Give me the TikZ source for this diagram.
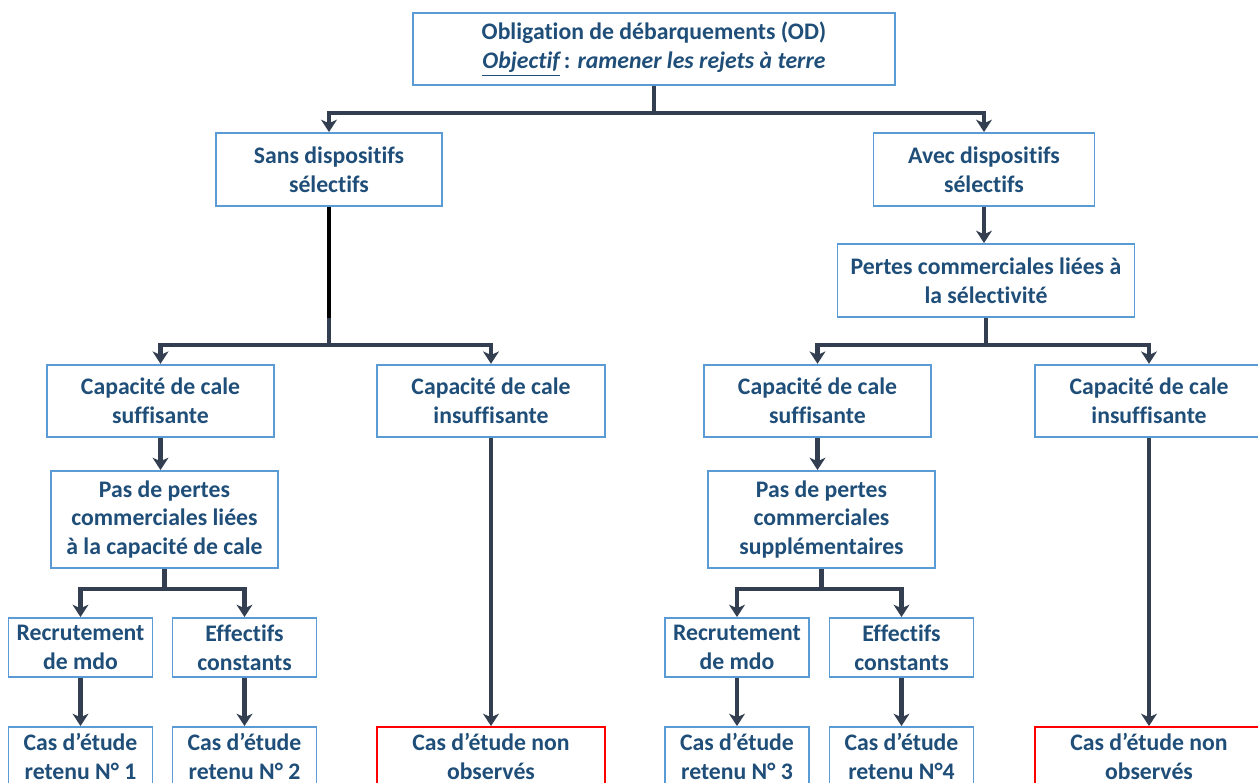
\documentclass[tikz,border=0pt]{standalone}
\usepackage{fontspec}
\setmainfont{Carlito}[Ligatures=NoCommon]
\usetikzlibrary{arrows.meta}

\definecolor{boxblue}{HTML}{5B9BD5}
\definecolor{textblue}{HTML}{1F4E79}
\definecolor{linegray}{HTML}{333F50}

\tikzset{
    box/.style={draw=boxblue, line width=1.1pt, fill=white, align=center, inner sep=1pt,
        text=textblue, font=\fontsize{13.5}{16.4}\selectfont\bfseries},
    widebox/.style={box, minimum width=4.55cm, minimum height=1.45cm},
    smallbox/.style={box, minimum width=2.88cm, minimum height=1.18cm},
    redbox/.style={box, draw=red, minimum width=4.56cm, minimum height=1.18cm},
    link/.style={draw=linegray, line width=2.8pt},
    arrow/.style={link, -{Stealth[length=7pt, width=9pt, inset=2pt]}}
}

\begin{document}
\begin{tikzpicture}[x=0.2mm, y=-0.2mm]

    % Frame
    \clip (0, 0) rectangle (1258, 783);

    % Top
    \node [box, minimum width=9.64cm, minimum height=1.44cm] (od) at (654, 49)
        {Obligation de débarquements (OD)\\\textit{\underline{Objectif}}\,: \textit{ramener les rejets à terre}};

    % Devices
    \node [box, minimum width=4.52cm, minimum height=1.46cm] (sans) at (329, 169.5) {Sans dispositifs\\sélectifs};
    \node [box, minimum width=4.42cm, minimum height=1.46cm] (avec) at (984, 169.5) {Avec dispositifs\\sélectifs};
    \node [box, minimum width=5.94cm, minimum height=1.46cm] (pertes) at (986, 280.5) {Pertes commerciales liées à\\la sélectivité};

    % Hold capacity
    \node [widebox] (suffL) at (160.5, 401) {Capacité de cale\\suffisante};
    \node [widebox] (insuffL) at (491, 401) {Capacité de cale\\insuffisante};
    \node [widebox] (suffR) at (817.5, 401) {Capacité de cale\\suffisante};
    \node [widebox] (insuffR) at (1149, 401) {Capacité de cale\\insuffisante};

    % No losses
    \node [widebox, minimum height=1.94cm] (pasL) at (164.5, 519.5) {Pas de pertes\\commerciales liées\\à la capacité de cale};
    \node [widebox, minimum height=1.94cm] (pasR) at (821.5, 519.5) {Pas de pertes\\commerciales\\supplémentaires};

    % Crew
    \node [smallbox] (recL) at (80.5, 647.5) {Recrutement\\de mdo};
    \node [smallbox] (effL) at (244.5, 647.5) {Effectifs\\constants};
    \node [smallbox] (recR) at (737, 647.5) {Recrutement\\de mdo};
    \node [smallbox] (effR) at (901.5, 647.5) {Effectifs\\constants};

    % Case studies
    \node [smallbox] (cas1) at (80.5, 756.5) {Cas d’étude\\retenu N° 1};
    \node [smallbox] (cas2) at (244.5, 756.5) {Cas d’étude\\retenu N° 2};
    \node [redbox] (nonL) at (491, 756.5) {Cas d’étude non\\observés};
    \node [smallbox] (cas3) at (737, 756.5) {Cas d’étude\\retenu N° 3};
    \node [smallbox] (cas4) at (901.5, 756.5) {Cas d’étude\\retenu N°4};
    \node [redbox] (nonR) at (1149, 756.5) {Cas d’étude non\\observés};

    % Junctions
    \coordinate (j0) at (654, 113);
    \coordinate (jS) at (329, 318);
    \coordinate (j1) at (329, 345);
    \coordinate (j2) at (986, 345);
    \coordinate (j3) at (164.5, 589);
    \coordinate (j4) at (821.5, 589);

    % Connectors
    \draw [link] (od) -- (j0);
    \draw [arrow] (j0) -| (sans);
    \draw [arrow] (j0) -| (avec);

    \draw [link, draw=black] (sans) -- (jS);
    \draw [link] (jS) -- (j1);
    \draw [arrow] (j1) -| (suffL);
    \draw [arrow] (j1) -| (insuffL);

    \draw [arrow] (avec) -- (avec |- pertes.north);
    \draw [link] (pertes) -- (j2);
    \draw [arrow] (j2) -| (suffR);
    \draw [arrow] (j2) -| (insuffR);

    \draw [arrow] (suffL) -- (suffL |- pasL.north);
    \draw [arrow] (suffR) -- (suffR |- pasR.north);

    \draw [link] (pasL) -- (j3);
    \draw [arrow] (j3) -| (recL);
    \draw [arrow] (j3) -| (effL);
    \draw [link] (pasR) -- (j4);
    \draw [arrow] (j4) -| (recR);
    \draw [arrow] (j4) -| (effR);

    \draw [arrow] (recL) -- (cas1);
    \draw [arrow] (effL) -- (cas2);
    \draw [arrow] (recR) -- (cas3);
    \draw [arrow] (effR) -- (cas4);
    \draw [arrow] (insuffL) -- (nonL);
    \draw [arrow] (insuffR) -- (nonR);

\end{tikzpicture}
\end{document}
